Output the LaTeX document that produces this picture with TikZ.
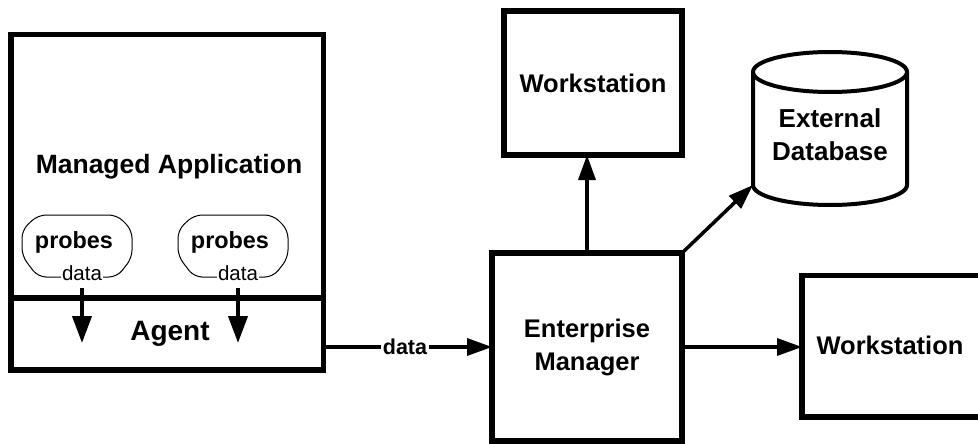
\documentclass[tikz,border=0pt]{standalone}
\usepackage{fontspec}
\setmainfont{Liberation Sans}
\usetikzlibrary{arrows.meta,calc}

\tikzset{
  box/.style={draw, line width=5.5pt, inner sep=0pt, outer sep=0pt},
  txt/.style={font=\bfseries\fontsize{#1}{33pt}\selectfont, inner sep=0pt},
  smalltxt/.style={font=\fontsize{#1}{#1}\selectfont, inner sep=1.5pt, fill=white},
  conn/.style={line width=3.5pt, -{Triangle[length=25pt,width=17pt]}},
  probearrow/.style={line width=4pt, -{Triangle[length=27pt,width=19pt]}},
  probe/.pic={
    \draw[line width=1pt, rounded corners=8pt]
      (-39,-31) -- (40,-31) -- (55,-16) -- (55,12) -- (40,31)
      -- (-39,31) -- (-55,10) -- (-55,-16) -- cycle;
    \node[txt=23.4] (-text) at (-3,-4) {probes};
    \node[smalltxt=20.5] (-data) at (5,27) {data};
  }
}

\begin{document}
\begin{tikzpicture}[x=1pt,y=-1pt]
  \path[use as bounding box] (0,0) rectangle (978,444);
  \fill[white] (0,0) rectangle (978,444);
  \clip (0,0) rectangle (978,444);

  % managed application with its agent strip
  \node[box, minimum width=312.5pt, minimum height=335.5pt] (ma) at (167.25,202.25) {};
  \node[txt=26.5] (matext) at (169,167) {Managed Application};
  \draw[line width=5.5pt] (ma.west |- 0,298) -- (ma.east |- 0,298);
  \node[txt=28] (agent) at (170,334) {Agent};

  % probes feeding the agent
  \pic (p1) at (77,246) {probe};
  \pic (p2) at (233,246) {probe};
  \coordinate (a1) at (p1-data.south |- 0,343);
  \coordinate (a2) at (p2-data.south |- 0,343);
  \draw[probearrow] (p1-data.south) ++(0,6) -- (a1);
  \draw[probearrow] (p2-data.south) ++(0,6) -- (a2);

  % enterprise manager and its clients
  \node[box, minimum width=190pt, minimum height=188pt, txt=25.5, align=center]
    (em) at (587,347) {Enterprise\\Manager};
  \node[box, minimum width=178pt, minimum height=144pt, txt=25.5]
    (ws1) at (593,83) {Workstation};
  \node[box, minimum width=183pt, minimum height=141.5pt] (ws2) at (893.5,346.25) {};
  \node[txt=25.5] (ws2text) at (890,345) {Workstation};

  % external database cylinder
  \node[minimum width=154pt, minimum height=113pt, inner sep=0pt, outer sep=0pt]
    (db) at (830,128.5) {};
  \draw[line width=4pt] (db.north) ellipse [x radius=77pt, y radius=20pt];
  \draw[line width=4pt] (db.north west) -- (db.south west)
    arc[start angle=180, end angle=360, x radius=77pt, y radius=20pt]
    -- (db.north east);
  \node[txt=26, align=center] (dbtext) at (830,135) {External\\Database};

  % connectors
  \draw[conn] (ma.east |- em.west) -- (em.west);
  \node[txt=21.5, fill=white, inner sep=2pt] (dlbl) at (405,347) {data};
  \draw[conn] (em.north) -- (em.north |- ws1.south);
  \draw[conn] (em.north east) -- (db.south west);
  \draw[conn] (em.east) -- (em.east -| ws2.west);
\end{tikzpicture}
\end{document}
